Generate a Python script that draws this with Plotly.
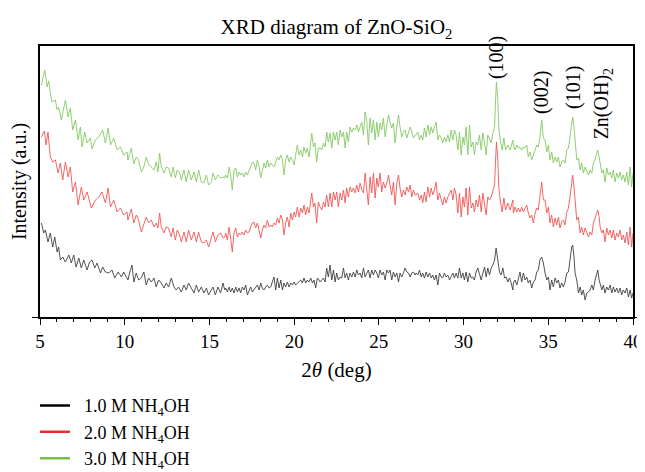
import plotly.graph_objects as go

# ---------------- data (2theta in degrees, intensity in arbitrary units) ----------------
angle_3m = [5.08, 5.28, 5.42, 5.51, 5.61, 5.71, 5.91, 6.01, 6.10, 6.26, 6.50, 6.66, 6.79, 6.93, 7.09, 7.25, 7.38, 7.48, 7.64, 7.78,
            7.97, 8.07, 8.27, 8.47, 8.70, 8.86, 9.02, 9.16, 9.35, 9.55, 9.75, 9.94, 10.14,
            10.19, 10.39, 10.54, 10.68, 10.82, 10.98, 11.13, 11.27, 11.41, 11.57, 11.73, 11.86, 11.96, 12.06, 12.16, 12.32, 12.45, 12.59,
            12.75, 12.85, 12.99, 13.10, 13.24, 13.34, 13.50, 13.63, 13.77, 13.93, 14.09, 14.23, 14.36, 14.52, 14.68, 14.82, 14.95, 15.11,
            15.21, 15.35, 15.50, 15.66, 15.80, 15.90,
            15.96, 16.06, 16.16, 16.25, 16.35, 16.45, 16.55, 16.65, 16.75, 16.84, 16.94, 17.04, 17.14, 17.24, 17.34, 17.43, 17.53, 17.63,
            17.73, 17.83, 17.93, 18.03, 18.12, 18.22, 18.32, 18.42, 18.52, 18.62, 18.71, 18.81, 18.91, 19.01, 19.11, 19.21, 19.31, 19.40,
            19.50, 19.60, 19.70, 19.80, 19.90, 20.00, 20.09, 20.19, 20.29, 20.39, 20.49, 20.58, 20.68, 20.78, 20.88, 20.98, 21.04, 21.14,
            21.23, 21.33, 21.43,
            21.53, 21.63, 21.73, 21.83, 21.92, 22.02, 22.12, 22.22, 22.32, 22.42, 22.51, 22.61, 22.71, 22.81, 22.91, 23.01, 23.10, 23.20,
            23.30, 23.40, 23.50, 23.60, 23.70, 23.79, 23.89, 23.99, 24.09, 24.19, 24.29, 24.38, 24.48, 24.58, 24.68, 24.78, 24.88, 24.97,
            25.07, 25.17, 25.27, 25.37, 25.47, 25.57, 25.66, 25.76, 25.86, 25.96, 26.06, 26.16, 26.25, 26.35, 26.45, 26.55, 26.65, 26.75,
            26.85, 26.94, 27.04, 27.14,
            27.20, 27.30, 27.40, 27.50, 27.59, 27.69, 27.79, 27.89, 27.99, 28.09, 28.18, 28.28, 28.38, 28.48, 28.58, 28.68, 28.77, 28.87,
            28.97, 29.07, 29.17, 29.27, 29.37, 29.46, 29.56, 29.66, 29.76, 29.86, 29.96, 30.05, 30.15, 30.25, 30.35, 30.45, 30.55, 30.64,
            30.74, 30.84, 30.94, 31.04, 31.14, 31.24, 31.33, 31.43, 31.53, 31.63, 31.73, 31.83, 31.89, 31.94, 32.02, 32.08, 32.16, 32.28,
            32.38, 32.48, 32.61, 32.75, 32.91,
            32.94, 33.04, 33.14, 33.23, 33.33, 33.43, 33.53, 33.63, 33.73, 33.82, 33.92, 34.02, 34.12, 34.22, 34.32, 34.41, 34.51, 34.61,
            34.71, 34.81, 34.91, 35.01, 35.10, 35.20, 35.30, 35.40, 35.50, 35.60, 35.69, 35.79, 35.89, 35.99, 36.09, 36.19, 36.28, 36.38,
            36.44, 36.52, 36.58, 36.68, 36.78, 36.88, 36.97, 37.07, 37.17, 37.27, 37.37, 37.47, 37.57, 37.66, 37.76, 37.86, 37.92, 38.00,
            38.06, 38.16, 38.25, 38.35, 38.45, 38.55, 38.65, 38.75, 38.84, 38.94, 39.04, 39.14, 39.24, 39.33, 39.43, 39.53, 39.63, 39.73,
            39.83, 39.92, 40.00]
int_3m = [232, 247, 230, 236, 224, 215, 217, 207, 210, 197, 217, 200, 209, 187, 197, 177, 190, 170, 185, 174,
          179, 168, 177, 180, 187, 174, 189, 172, 179, 167, 170, 162, 165,
          157, 169, 153, 160, 157, 145, 150, 160, 153, 150, 147, 155, 145, 164, 150, 144, 150, 149,
          140, 150, 139, 147, 144, 137, 147, 135, 147, 137, 145, 135, 147, 135, 134, 142, 132, 135,
          144, 137, 142, 139, 140, 139,
          142, 139, 150, 142, 127, 147, 149, 140, 145, 142, 144, 140, 145, 142, 147, 150, 155, 154,
          147, 157, 150, 139, 145, 154, 149, 157, 150, 154, 152, 150, 155, 160, 157, 162, 157, 142,
          157, 162, 155, 160, 157, 152, 162, 172, 162, 167, 160, 170, 164, 169, 160, 174, 184, 170,
          174, 155, 169,
          169, 167, 174, 170, 185, 175, 184, 169, 185, 177, 185, 172, 187, 180, 185, 169, 185, 175,
          190, 185, 189, 187, 192, 185, 190, 195, 182, 205, 195, 172, 199, 184, 197, 177, 195, 180,
          194, 187, 199, 180, 192, 202, 195, 189, 194, 174, 190, 202, 190, 180, 185, 187, 179, 184,
          190, 185, 179, 182,
          182, 185, 177, 182, 177, 189, 180, 192, 182, 190, 184, 190, 195, 177, 182, 179, 174, 180,
          175, 182, 175, 187, 177, 187, 182, 167, 185, 162, 180, 172, 190, 162, 192, 170, 175, 162,
          175, 172, 182, 167, 184, 174, 162, 182, 177, 174, 184, 190, 217, 235, 217, 190, 177, 167,
          179, 167, 172, 167, 177,
          172, 167, 172, 169, 170, 167, 170, 169, 172, 160, 165, 157, 162, 165, 172, 170, 180, 197,
          179, 177, 165, 172, 157, 165, 154, 160, 155, 160, 150, 155, 157, 154, 167, 169, 180, 190,
          200, 190, 177, 157, 159, 147, 154, 144, 150, 145, 142, 147, 144, 154, 157, 164, 167, 160,
          154, 144, 147, 135, 149, 142, 145, 139, 147, 135, 144, 139, 145, 137, 142, 135, 145, 132,
          150, 130, 144]

angle_2m = [5.08, 5.26, 5.36, 5.47, 5.61, 5.75, 5.91, 6.07, 6.20, 6.34, 6.50, 6.66, 6.79, 6.93, 7.09, 7.25, 7.44, 7.58, 7.78, 8.03,
            8.27, 8.47, 8.66, 8.86, 9.02, 9.16, 9.35, 9.55, 9.75, 9.94, 10.14,
            10.19, 10.39, 10.54, 10.68, 10.82, 10.98, 11.13, 11.27, 11.41, 11.57, 11.73, 11.86, 11.96, 12.06, 12.16, 12.32, 12.45, 12.59,
            12.75, 12.85, 12.99, 13.10, 13.24, 13.34, 13.50, 13.63, 13.77, 13.93, 14.09, 14.23, 14.36, 14.52, 14.68, 14.82, 14.95, 15.11,
            15.21, 15.35, 15.50, 15.66, 15.80, 15.90,
            15.96, 16.06, 16.16, 16.25, 16.35, 16.45, 16.55, 16.65, 16.75, 16.84, 16.94, 17.04, 17.14, 17.24, 17.34, 17.43, 17.53, 17.63,
            17.73, 17.83, 17.93, 18.03, 18.12, 18.22, 18.32, 18.42, 18.52, 18.62, 18.71, 18.81, 18.91, 19.01, 19.11, 19.21, 19.31, 19.40,
            19.50, 19.60, 19.70, 19.80, 19.90, 20.00, 20.09, 20.19, 20.29, 20.39, 20.49, 20.58, 20.68, 20.78, 20.88, 20.98, 21.04, 21.14,
            21.23, 21.33, 21.43,
            21.53, 21.63, 21.73, 21.83, 21.92, 22.02, 22.12, 22.22, 22.32, 22.42, 22.51, 22.61, 22.71, 22.81, 22.91, 23.01, 23.10, 23.20,
            23.30, 23.40, 23.50, 23.60, 23.70, 23.79, 23.89, 23.99, 24.09, 24.19, 24.29, 24.38, 24.48, 24.58, 24.68, 24.78, 24.88, 24.97,
            25.07, 25.17, 25.27, 25.37, 25.47, 25.57, 25.66, 25.76, 25.86, 25.96, 26.06, 26.16, 26.25, 26.35, 26.45, 26.55, 26.65, 26.75,
            26.85, 26.94, 27.04, 27.14,
            27.20, 27.30, 27.40, 27.50, 27.59, 27.69, 27.79, 27.89, 27.99, 28.09, 28.18, 28.28, 28.38, 28.48, 28.58, 28.68, 28.77, 28.87,
            28.97, 29.07, 29.17, 29.27, 29.37, 29.46, 29.56, 29.66, 29.76, 29.86, 29.96, 30.05, 30.15, 30.25, 30.35, 30.45, 30.55, 30.64,
            30.74, 30.84, 30.94, 31.04, 31.14, 31.24, 31.33, 31.43, 31.53, 31.63, 31.73, 31.83, 31.89, 31.94, 32.02, 32.08, 32.16, 32.28,
            32.38, 32.48, 32.61, 32.75, 32.91,
            32.94, 33.04, 33.14, 33.23, 33.33, 33.43, 33.53, 33.63, 33.73, 33.82, 33.92, 34.02, 34.12, 34.22, 34.32, 34.41, 34.51, 34.61,
            34.71, 34.81, 34.91, 35.01, 35.10, 35.20, 35.30, 35.40, 35.50, 35.60, 35.69, 35.79, 35.89, 35.99, 36.09, 36.19, 36.28, 36.38,
            36.44, 36.52, 36.58, 36.68, 36.78, 36.88, 36.97, 37.07, 37.17, 37.27, 37.37, 37.47, 37.57, 37.66, 37.76, 37.86, 37.92, 38.00,
            38.06, 38.16, 38.25, 38.35, 38.45, 38.55, 38.65, 38.75, 38.84, 38.94, 39.04, 39.14, 39.24, 39.33, 39.43, 39.53, 39.63, 39.73,
            39.83, 39.92, 40.00]
int_2m = [180, 186, 172, 185, 160, 155, 157, 144, 154, 137, 155, 140, 150, 125, 135, 112, 130, 117, 125, 109,
          117, 120, 125, 114, 129, 110, 117, 105, 109, 102, 105,
          97, 108, 94, 102, 97, 85, 94, 100, 94, 97, 90, 94, 89, 104, 90, 84, 90, 89,
          80, 89, 77, 87, 82, 75, 85, 75, 87, 77, 85, 75, 85, 75, 74, 77, 70, 80,
          85, 75, 82, 84, 79, 80,
          84, 77, 90, 79, 65, 84, 89, 80, 84, 82, 85, 82, 87, 84, 85, 90, 94, 95,
          89, 94, 85, 79, 87, 92, 89, 97, 90, 92, 90, 94, 92, 99, 94, 102, 97, 82,
          94, 100, 90, 104, 97, 105, 100, 110, 100, 109, 104, 112, 102, 110, 104, 114, 124, 110,
          114, 94, 115,
          110, 107, 115, 110, 122, 110, 124, 110, 125, 117, 125, 110, 124, 117, 127, 114, 129, 120,
          130, 125, 129, 124, 132, 125, 134, 127, 124, 144, 127, 112, 140, 124, 144, 119, 139, 130,
          144, 125, 135, 129, 134, 142, 132, 122, 135, 112, 134, 142, 129, 120, 127, 122, 130, 125,
          132, 120, 127, 122,
          122, 124, 117, 122, 114, 125, 115, 130, 120, 129, 122, 127, 135, 117, 124, 117, 112, 120,
          114, 120, 124, 127, 117, 129, 122, 104, 124, 100, 120, 110, 129, 102, 130, 109, 114, 105,
          117, 110, 122, 105, 124, 114, 102, 120, 117, 120, 127, 132, 157, 175, 157, 130, 117, 105,
          119, 107, 114, 107, 117,
          104, 110, 105, 109, 105, 110, 105, 109, 112, 104, 99, 102, 94, 104, 109, 107, 120, 135,
          117, 117, 104, 110, 94, 102, 90, 99, 92, 100, 89, 95, 97, 92, 105, 109, 120, 134,
          142, 130, 114, 97, 100, 84, 90, 82, 89, 84, 80, 85, 82, 94, 100, 105, 107, 100,
          90, 84, 87, 75, 89, 82, 87, 79, 87, 77, 84, 80, 87, 77, 82, 74, 85, 72,
          90, 70, 84]

angle_1m = [5.08, 5.22, 5.32, 5.47, 5.61, 5.75, 5.87, 6.01, 6.10, 6.20, 6.34, 6.50, 6.70, 6.85, 6.99, 7.13, 7.29, 7.44, 7.58, 7.78,
            7.92, 8.07, 8.23, 8.37, 8.57, 8.70, 8.86, 9.06, 9.25, 9.41, 9.61, 9.81, 9.94, 10.14,
            10.19, 10.29, 10.43, 10.54, 10.68, 10.82, 10.98, 11.13, 11.27, 11.41, 11.57, 11.73, 11.86, 12.00, 12.16, 12.32, 12.45, 12.59,
            12.75, 12.91, 13.04, 13.18, 13.34, 13.50, 13.63, 13.77, 13.93, 14.09, 14.23, 14.36, 14.52, 14.68, 14.82, 14.95, 15.11, 15.21,
            15.35, 15.50, 15.66, 15.80, 15.90,
            15.96, 16.06, 16.16, 16.25, 16.35, 16.45, 16.55, 16.65, 16.75, 16.84, 16.94, 17.04, 17.14, 17.24, 17.34, 17.43, 17.53, 17.63,
            17.73, 17.83, 17.93, 18.03, 18.12, 18.22, 18.32, 18.42, 18.52, 18.62, 18.71, 18.81, 18.91, 19.01, 19.11, 19.21, 19.31, 19.40,
            19.50, 19.60, 19.70, 19.80, 19.90, 20.00, 20.09, 20.19, 20.29, 20.39, 20.49, 20.58, 20.68, 20.78, 20.88, 20.98, 21.08, 21.17,
            21.27, 21.37, 21.47,
            21.53, 21.63, 21.73, 21.83, 21.92, 22.02, 22.12, 22.22, 22.32, 22.42, 22.51, 22.61, 22.71, 22.81, 22.91, 23.01, 23.10, 23.20,
            23.30, 23.40, 23.50, 23.60, 23.70, 23.79, 23.89, 23.99, 24.09, 24.19, 24.29, 24.38, 24.48, 24.58, 24.68, 24.78, 24.88, 24.97,
            25.07, 25.17, 25.27, 25.37, 25.47, 25.57, 25.66, 25.76, 25.86, 25.96, 26.06, 26.16, 26.25, 26.35, 26.45, 26.55, 26.65, 26.75,
            26.85, 26.94, 27.04, 27.14,
            27.20, 27.30, 27.40, 27.50, 27.59, 27.69, 27.79, 27.89, 27.99, 28.09, 28.18, 28.28, 28.38, 28.48, 28.58, 28.68, 28.77, 28.87,
            28.97, 29.07, 29.17, 29.27, 29.37, 29.46, 29.56, 29.66, 29.76, 29.86, 29.96, 30.05, 30.15, 30.25, 30.35, 30.45, 30.55, 30.64,
            30.74, 30.84, 30.94, 31.04, 31.14, 31.24, 31.33, 31.43, 31.53, 31.63, 31.73, 31.83, 31.92, 32.02, 32.12, 32.22, 32.32, 32.42,
            32.52, 32.61, 32.71, 32.81, 32.91,
            32.94, 33.04, 33.14, 33.23, 33.33, 33.43, 33.53, 33.63, 33.73, 33.82, 33.92, 34.02, 34.12, 34.22, 34.32, 34.41, 34.51, 34.61,
            34.71, 34.81, 34.91, 35.01, 35.10, 35.20, 35.30, 35.40, 35.50, 35.60, 35.69, 35.79, 35.89, 35.99, 36.09, 36.19, 36.28, 36.38,
            36.44, 36.52, 36.58, 36.68, 36.78, 36.88, 36.97, 37.07, 37.17, 37.27, 37.37, 37.47, 37.57, 37.66, 37.76, 37.86, 37.92, 38.00,
            38.06, 38.16, 38.25, 38.35, 38.45, 38.55, 38.65, 38.75, 38.84, 38.94, 39.04, 39.14, 39.24, 39.33, 39.43, 39.53, 39.63, 39.73,
            39.83, 39.92, 40.00]
int_1m = [94, 84, 87, 75, 84, 70, 80, 65, 70, 57, 60, 55, 62, 54, 62, 50, 59, 49, 57, 47,
          55, 57, 49, 54, 44, 50, 45, 44, 47, 39, 45, 40, 45, 39,
          37, 44, 52, 35, 44, 37, 39, 45, 32, 39, 35, 39, 30, 37, 34, 29, 34, 30,
          39, 30, 27, 30, 25, 32, 27, 34, 29, 24, 32, 25, 30, 24, 29, 22, 27, 30,
          22, 30, 24, 34, 27,
          29, 25, 30, 25, 29, 24, 30, 25, 29, 24, 30, 27, 32, 22, 27, 30, 25, 27,
          30, 32, 27, 34, 29, 27, 30, 32, 29, 30, 35, 40, 27, 39, 29, 37, 27, 34,
          30, 35, 30, 34, 32, 35, 32, 34, 35, 37, 34, 39, 34, 37, 35, 39, 34, 37,
          29, 39, 37,
          35, 37, 39, 35, 49, 40, 52, 37, 47, 35, 44, 37, 40, 39, 49, 39, 44, 37,
          44, 40, 45, 40, 47, 42, 44, 39, 49, 40, 44, 47, 39, 47, 42, 47, 44, 39,
          47, 42, 45, 37, 47, 44, 47, 37, 45, 40, 44, 35, 44, 40, 44, 49, 45, 44,
          40, 44, 45, 42,
          44, 42, 47, 40, 44, 39, 45, 40, 44, 39, 42, 37, 42, 32, 44, 40, 39, 44,
          40, 42, 37, 40, 44, 39, 44, 39, 49, 39, 44, 37, 45, 35, 44, 39, 40, 37,
          45, 49, 44, 37, 44, 50, 40, 49, 42, 49, 52, 57, 69, 59, 45, 42, 49, 39,
          40, 35, 39, 34, 27,
          34, 37, 32, 40, 45, 35, 44, 37, 40, 34, 37, 29, 35, 37, 45, 47, 57, 60,
          54, 44, 37, 40, 27, 37, 30, 39, 34, 37, 29, 34, 30, 35, 44, 45, 57, 70,
          72, 60, 44, 37, 24, 30, 22, 27, 17, 24, 25, 27, 32, 27, 37, 45, 47, 37,
          34, 27, 32, 24, 30, 27, 32, 24, 30, 25, 29, 24, 29, 22, 27, 24, 29, 20,
          27, 19, 24]

series_names = ["1.0 M NH<sub>4</sub>OH", "2.0 M NH<sub>4</sub>OH", "3.0 M NH<sub>4</sub>OH"]
peak_labels = ["(100)", "(002)", "(101)", "Zn(OH)<sub>2</sub>"]
peak_angles = [31.98, 34.63, 36.46, 38.25]
label_heights = [0.956, 0.827, 0.845, 0.786]   # paper fraction of label centres

# ---------------- styling ----------------
FONT = "Liberation Serif"
plot_colors = ["#404040", "#f25555", "#84c862"]
legend_colors = ["#000000", "#e8302a", "#76bd45"]

# the page adds an 8 px body margin, so the figure is 8 px smaller than the window
W, H = 637, 464

fig = go.Figure()
for ang, inten, col in [(angle_1m, int_1m, plot_colors[0]),
                        (angle_2m, int_2m, plot_colors[1]),
                        (angle_3m, int_3m, plot_colors[2])]:
    fig.add_trace(go.Scatter(x=ang, y=inten, mode="lines", showlegend=False,
                             line=dict(color=col, width=0.9), hoverinfo="skip"))

for name, col in zip(series_names, legend_colors):
    fig.add_trace(go.Scatter(x=[None], y=[None], mode="lines", name="\u00a0\u00a0" + name,
                             line=dict(color=col, width=2.5)))

for lab, xa, yh in zip(peak_labels, peak_angles, label_heights):
    fig.add_annotation(x=xa, y=yh, xref="x", yref="paper", text=lab, textangle=-90,
                       showarrow=False, xanchor="center", yanchor="middle",
                       font=dict(family=FONT, size=20, color="black"))

fig.update_layout(
    width=W, height=H,
    margin=dict(l=32, r=12, t=38, b=155, autoexpand=False),
    paper_bgcolor="white", plot_bgcolor="white",
    font=dict(family=FONT, size=19, color="black"),
    title=dict(text="XRD diagram of ZnO-SiO<sub>2</sub>", x=0.5, xref="paper", xanchor="center",
               y=1 - 19 / H, yref="container", yanchor="middle",
               font=dict(family=FONT, size=21, color="black")),
    showlegend=True,
    legend=dict(x=-0.0085, xanchor="left", y=-0.259, yanchor="top", yref="paper",
                bgcolor="rgba(0,0,0,0)", font=dict(family=FONT, size=18, color="black"),
                tracegroupgap=0, itemwidth=30),
)
fig.update_xaxes(range=[5, 40], tickvals=[5, 10, 15, 20, 25, 30, 35, 40], automargin=False,
                 ticks="outside", ticklen=6, tickwidth=1.3, tickcolor="black",
                 minor=dict(dtick=1, tick0=5, ticks="outside", ticklen=3.5, tickwidth=1.2, tickcolor="black"),
                 showline=True, linecolor="black", linewidth=1.5, mirror=True,
                 showgrid=False, zeroline=False,
                 tickfont=dict(family=FONT, size=19, color="black"),
                 title=dict(text="2<i>θ</i> (deg)", standoff=12, font=dict(family=FONT, size=21, color="black")))
fig.update_yaxes(range=[0, 271], tickvals=[0], showticklabels=False, automargin=False,
                 ticks="outside", ticklen=6, tickwidth=1.3, tickcolor="black",
                 showline=True, linecolor="black", linewidth=1.5, mirror="ticks",
                 showgrid=False, zeroline=False,
                 title=dict(text="Intensity (a.u.)", standoff=4, font=dict(family=FONT, size=20, color="black")))

fig.write_html("out.html")
